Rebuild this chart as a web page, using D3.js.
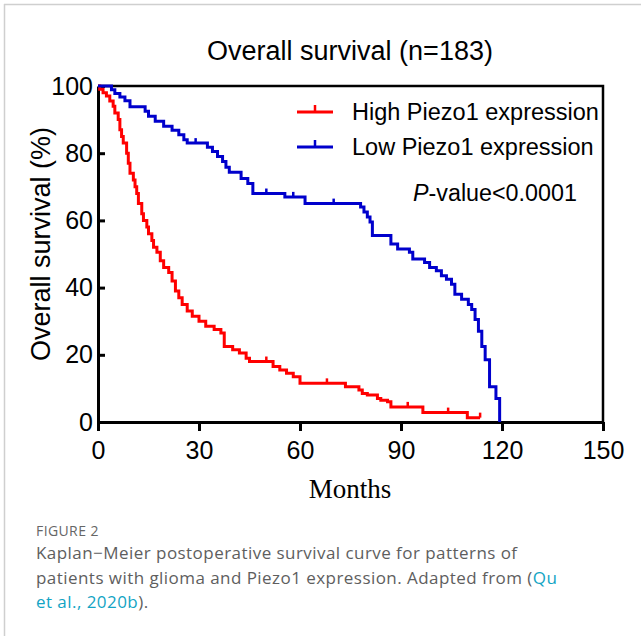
<!DOCTYPE html>
<html>
<head>
<meta charset="utf-8">
<script src="https://cdn.jsdelivr.net/npm/d3@7"></script>
<style>
  html, body { margin: 0; padding: 0; background: #fff; }
  svg { display: block; }
</style>
</head>
<body>
<div id="chart"></div>
<script>
'use strict';

// Kaplan-Meier steps: [month, survival %]
var highMonths   = [0, 0.5, 1.5, 2.5, 3.5, 4.5, 5, 6, 6.5, 7, 7.5, 8.5, 9, 9.5, 10.5, 11, 11.5, 12, 13, 13.5,
                    14.5, 15, 16, 16.5, 17.5, 18.5, 19.5, 21, 22, 23, 24, 25, 26.5, 28, 30, 32, 34.5, 36.5, 37.5, 40,
                    42, 44, 45, 52, 54, 56, 58, 60, 73.5, 77.5, 78.5, 80, 83, 84, 86, 87, 96.5, 109.7, 113.5];
var highSurvival = [100, 99, 98, 97, 95.5, 94, 92, 90, 87, 85, 83, 80, 77, 74, 72, 70, 68, 65, 62, 60,
                    58, 56, 54, 52, 50.5, 48, 46, 44.5, 42, 39, 37, 35, 33, 31.5, 30, 28.5, 27.5, 26.5, 22.5, 21.5,
                    20.5, 19, 18, 16.5, 15.5, 14.5, 13.5, 11.5, 10.5, 9.5, 8.5, 8, 7, 6.5, 6, 4.5, 2.8, 1.3, 1.3];

var lowMonths    = [0, 4, 5, 6.5, 8, 9.5, 14, 15, 17, 19.5, 22, 24, 25.5, 26.5, 32.5, 34, 35.5, 37, 38, 39,
                    42.5, 44.5, 46, 55.5, 61.5, 78, 79, 80, 80.8, 81.5, 87, 89, 92.5, 93.5, 97, 98.5, 100.5, 102, 103.5, 105,
                    106, 108, 110, 111, 112, 113, 114, 115, 116.3, 118.2, 119.3];
var lowSurvival  = [100, 98.9, 97.8, 96.7, 95.6, 93.8, 92.5, 91, 89.5, 88, 86.8, 85.5, 84, 83, 81.8, 80.5, 79, 77.5, 75.8, 74.3,
                    72.5, 71, 68, 67, 65, 64, 62.5, 61, 59.5, 55.5, 53, 51.5, 50.5, 48.5, 47.5, 46, 45, 43.5, 42.5, 41,
                    38, 36.5, 35, 33.5, 30.5, 27, 22.5, 18.5, 10.5, 7, 0];

// censored observations (small upward ticks)
var highCensored = [50, 68, 92, 104, 113.5];
var lowCensored  = [29, 50, 58, 70];

var seriesNames  = ['High Piezo1 expression', 'Low Piezo1 expression'];
var seriesColors = ['#ff0000', '#0000cc'];
var xTicks = [0, 30, 60, 90, 120, 150];
var yTicks = [0, 20, 40, 60, 80, 100];

var W = 641, H = 636;
var sans = '"Liberation Sans", Arial, Helvetica, sans-serif';

var svg = d3.select('#chart').append('svg')
  .attr('width', W).attr('height', H)
  .attr('viewBox', [0, 0, W, H]);

// page frame lines (light grey)
svg.append('line').attr('x1', 4).attr('x2', W).attr('y1', 4.5).attr('y2', 4.5)
  .attr('stroke', '#cfcfcf').attr('stroke-width', 1.5);
svg.append('line').attr('x1', 4.5).attr('x2', 4.5).attr('y1', 4).attr('y2', H)
  .attr('stroke', '#cfcfcf').attr('stroke-width', 1.5);

var x = d3.scaleLinear().domain([0, 150]).range([98, 603]);
var y = d3.scaleLinear().domain([0, 100]).range([422, 86]);

// title
svg.append('text')
  .attr('x', 350).attr('y', 60)
  .attr('text-anchor', 'middle')
  .attr('font-family', sans).attr('font-size', 27)
  .attr('fill', '#000')
  .text('Overall survival (n=183)');

// top/right frame of plot
svg.append('path')
  .attr('d', 'M' + x(0) + ',' + y(100) + 'H' + x(150) + 'V' + y(0))
  .attr('fill', 'none').attr('stroke', '#000').attr('stroke-width', 2.5);

// axes
var xAxis = d3.axisBottom(x).tickValues(xTicks).tickSize(9).tickSizeOuter(0).tickPadding(10);
var yAxis = d3.axisLeft(y).tickValues(yTicks).tickSize(-7).tickSizeOuter(0).tickPadding(5);

var gx = svg.append('g').attr('transform', 'translate(0,' + y(0) + ')').call(xAxis);
var gy = svg.append('g').attr('transform', 'translate(' + x(0) + ',0)').call(yAxis);

[gx, gy].forEach(function (g) {
  g.selectAll('.domain').attr('stroke', '#000').attr('stroke-width', 3);
  g.selectAll('.tick line').attr('stroke', '#000').attr('stroke-width', 3);
  g.selectAll('.tick text')
    .attr('font-family', sans).attr('font-size', 25).attr('fill', '#000');
});

// axis titles
svg.append('text')
  .attr('transform', 'translate(50,244) rotate(-90)')
  .attr('text-anchor', 'middle')
  .attr('font-family', sans).attr('font-size', 27)
  .text('Overall survival (%)');

svg.append('text')
  .attr('x', 350).attr('y', 498)
  .attr('text-anchor', 'middle')
  .attr('font-family', '"Liberation Serif", "Times New Roman", serif').attr('font-size', 27)
  .text('Months');

// survival curves
var line = d3.line()
  .x(function (d) { return x(d[0]); })
  .y(function (d) { return y(d[1]); })
  .curve(d3.curveStepAfter);

function stepValue(months, surv, t) {
  var v = surv[0];
  for (var i = 0; i < months.length; i++) {
    if (months[i] <= t) v = surv[i];
  }
  return v;
}

var series = [
  { months: highMonths, surv: highSurvival, cens: highCensored },
  { months: lowMonths, surv: lowSurvival, cens: lowCensored }
];

var plot = svg.append('g');
series.forEach(function (s, i) {
  var pts = d3.zip(s.months, s.surv);
  plot.append('path')
    .datum(pts)
    .attr('d', line)
    .attr('fill', 'none')
    .attr('stroke', seriesColors[i])
    .attr('stroke-width', 3)
    .attr('stroke-linejoin', 'miter');

  plot.selectAll('.cens' + i)
    .data(s.cens)
    .join('line')
    .attr('class', 'cens' + i)
    .attr('x1', function (d) { return x(d); })
    .attr('x2', function (d) { return x(d); })
    .attr('y1', function (d) { return y(stepValue(s.months, s.surv, d)); })
    .attr('y2', function (d) { return y(stepValue(s.months, s.surv, d)) - 5; })
    .attr('stroke', seriesColors[i])
    .attr('stroke-width', 2.5);
});

// legend
var legend = svg.append('g');
seriesNames.forEach(function (name, i) {
  var ly = 112 + i * 35;
  legend.append('line')
    .attr('x1', 297).attr('x2', 333).attr('y1', ly).attr('y2', ly)
    .attr('stroke', seriesColors[i]).attr('stroke-width', 3);
  legend.append('line')
    .attr('x1', 315).attr('x2', 315).attr('y1', ly).attr('y2', ly - 7)
    .attr('stroke', seriesColors[i]).attr('stroke-width', 2.5);
  legend.append('text')
    .attr('x', 352).attr('y', ly + 8)
    .attr('font-family', sans).attr('font-size', 23.5)
    .attr('fill', '#000')
    .text(name);
});

var pv = svg.append('text')
  .attr('x', 413).attr('y', 201)
  .attr('font-family', sans).attr('font-size', 23.3);
pv.append('tspan').attr('font-style', 'italic').text('P');
pv.append('tspan').text('-value<0.0001');

// caption
var capFont = '"Open Sans", "Noto Sans", sans-serif';
svg.append('text')
  .attr('x', 36).attr('y', 536)
  .attr('font-family', capFont).attr('font-size', 14)
  .attr('letter-spacing', 0.4)
  .attr('fill', '#666')
  .text('FIGURE 2');

var capLines = [
  [{ t: 'Kaplan\u2212Meier postoperative survival curve for patterns of' }],
  [{ t: 'patients with glioma and Piezo1 expression. Adapted from (' }, { t: 'Qu', link: true }],
  [{ t: 'et al., 2020b', link: true }, { t: ').' }]
];
capLines.forEach(function (parts, i) {
  var t = svg.append('text')
    .attr('x', 36).attr('y', 559 + i * 24.5)
    .attr('font-family', capFont).attr('font-size', 17)
    .attr('letter-spacing', 0.45)
    .attr('fill', '#5e5e5e');
  parts.forEach(function (p) {
    t.append('tspan').attr('fill', p.link ? '#12a4c4' : '#5e5e5e').text(p.t);
  });
});
</script>
</body>
</html>
